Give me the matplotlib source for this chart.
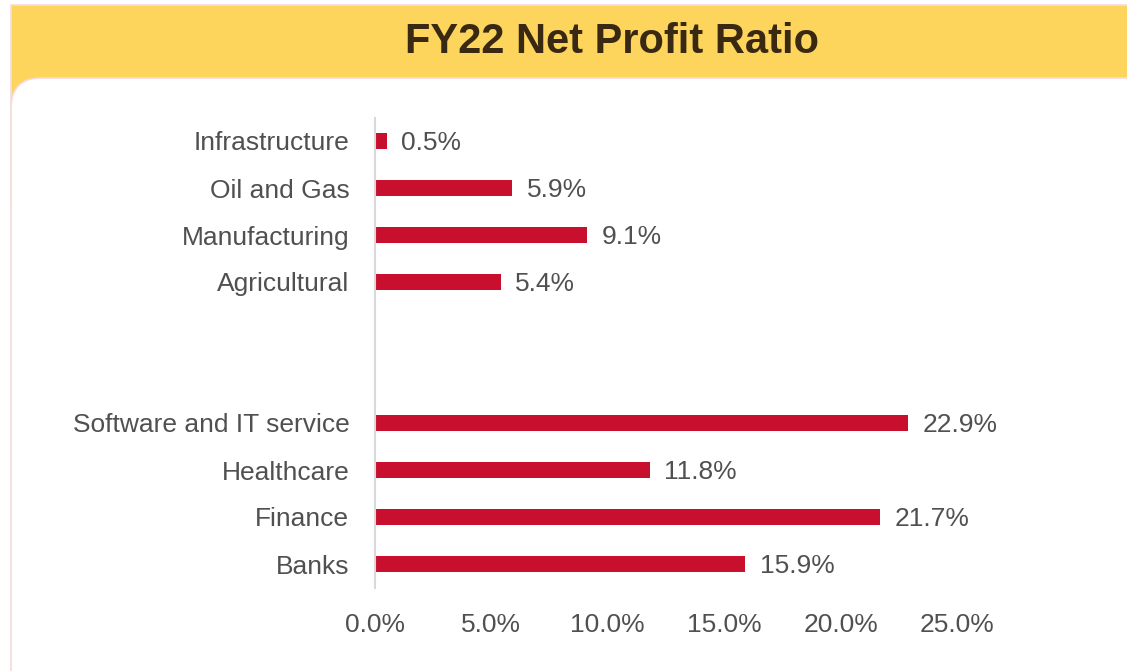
import matplotlib.pyplot as plt
from matplotlib.patches import FancyBboxPatch, Rectangle

plt.rcParams['font.family'] = ['Liberation Sans', 'DejaVu Sans']

categories = ["Infrastructure", "Oil and Gas", "Manufacturing", "Agricultural", "", "",
              "Software and IT service", "Healthcare", "Finance", "Banks"]
values = [0.5, 5.9, 9.1, 5.4, None, None, 22.9, 11.8, 21.7, 15.9]
ticks = [0, 5, 10, 15, 20, 25]

bar_color = "#C8102E"
text_color = "#505050"

fig = plt.figure(figsize=(11.27, 6.71), dpi=100)

# background frame in pixel coords
bg = fig.add_axes([0, 0, 1, 1], zorder=0)
bg.set_xlim(0, 1127)
bg.set_ylim(671, 0)
bg.axis("off")
bg.add_patch(Rectangle((11, 5), 1200, 200, facecolor="#FDD55C", edgecolor="#F6DADA", lw=1.2))
bg.add_patch(FancyBboxPatch((11, 78), 1200, 700, boxstyle="round,pad=0,rounding_size=30",
                            facecolor="white", edgecolor="#F6DADA", lw=1.2))
bg.text(612, 42, "FY22 Net Profit Ratio", ha="center", va="center",
        fontsize=30, fontweight="bold", color="#3A2912")

ax = fig.add_axes([375 / 1127, 1 - 587.5 / 671, (957 - 375) / 1127, 470 / 671], zorder=1)
ax.patch.set_alpha(0)

ys = list(range(len(categories)))
for y, v in zip(ys, values):
    if v is None:
        continue
    ax.barh(y, v, height=0.36, color=bar_color)
    ax.text(v + 0.62, y + 0.04, f"{v:.1f}%", va="center", ha="left", fontsize=19, color=text_color)

ax.set_ylim(len(categories) - 0.5, -0.5)
ax.set_xlim(0, 25)
ax.set_yticks(ys)
ax.set_yticklabels(categories, fontsize=19, color=text_color)
ax.set_xticks(ticks)
ax.set_xticklabels([f"{t:.1f}%" for t in ticks], fontsize=19, color=text_color)
ax.tick_params(axis="both", length=0)
ax.tick_params(axis="y", pad=18.5)
ax.tick_params(axis="x", pad=18)
for s in ["top", "right", "bottom"]:
    ax.spines[s].set_visible(False)
ax.spines["left"].set_color("#D9D9D9")
ax.spines["left"].set_linewidth(1.5)

fig.savefig("out.png", dpi=100)
